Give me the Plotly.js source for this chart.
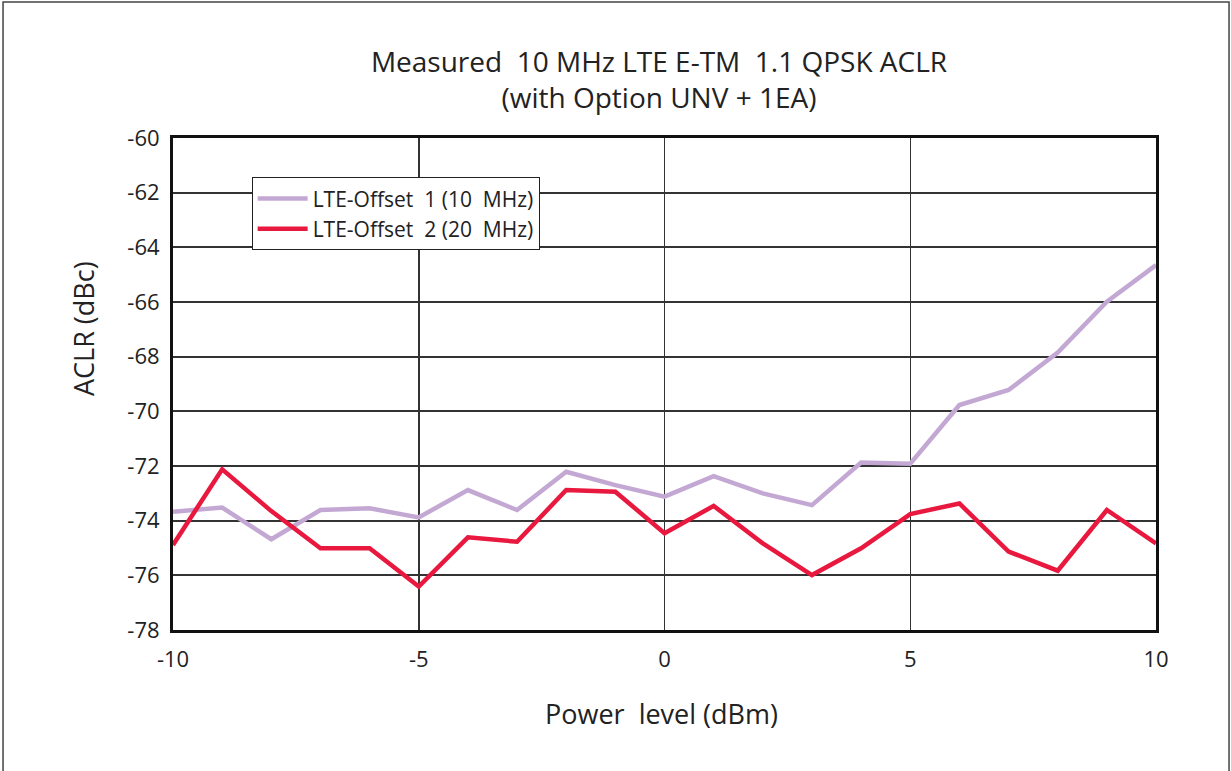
<!DOCTYPE html>
<html>
<head>
<meta charset="utf-8">
<script src="https://cdn.plot.ly/plotly-3.0.1.min.js"></script>
<style>html,body{margin:0;padding:0;background:#fff;}#chart{width:1231px;height:771px;}</style>
</head>
<body>
<div id="chart"></div>
<script>
const powerLevel = [-10,-9,-8,-7,-6,-5,-4,-3,-2,-1,0,1,2,3,4,5,6,7,8,9,10];
const offset1 = [-73.67,-73.52,-74.68,-73.61,-73.55,-73.88,-72.88,-73.61,-72.21,-72.70,-73.12,-72.37,-73.00,-73.43,-71.87,-71.92,-69.77,-69.22,-67.85,-65.99,-64.65];
const offset2 = [-74.89,-72.12,-73.65,-75.01,-75.01,-76.41,-74.61,-74.77,-72.88,-72.94,-74.46,-73.46,-74.83,-75.99,-75.01,-73.76,-73.37,-75.13,-75.83,-73.61,-74.83];
const seriesNames = ['LTE-Offset\u00a0 1 (10\u00a0 MHz)', 'LTE-Offset\u00a0 2 (20\u00a0 MHz)'];
const xTicks = [-10,-5,0,5,10];
const yTicks = [-78,-76,-74,-72,-70,-68,-66,-64,-62,-60];
const titleText = 'Measured\u00a0 10 MHz LTE E-TM\u00a0 1.1 QPSK ACLR<br>(with Option UNV + 1EA)';
const xTitle = 'Power\u00a0 level (dBm)';
const yTitle = 'ACLR (dBc)';

const FONT = 'Open Sans, Noto Sans, sans-serif';
const TXT = '#222';
const traces = [
  {x: powerLevel, y: offset1, name: seriesNames[0], mode: 'lines', line: {color: '#c4a8d4', width: 4.5}},
  {x: powerLevel, y: offset2, name: seriesNames[1], mode: 'lines', line: {color: '#e8183e', width: 4.5}}
];
const layout = {
  width: 1231, height: 771,
  margin: {l: 173, r: 75, t: 138, b: 141},
  paper_bgcolor: '#fff', plot_bgcolor: '#fff',
  font: {family: FONT, color: TXT},
  title: {text: titleText, font: {size: 28, color: TXT}, x: 659/1231, xref: 'container', xanchor: 'center', yref: 'container', y: 1 - 72/771, yanchor: 'middle'},
  xaxis: {
    range: [-10, 10], tickvals: xTicks, ticktext: xTicks.map(String),
    showgrid: true, gridcolor: '#333', gridwidth: 1.5, zeroline: false,
    showline: true, mirror: true, linecolor: '#111', linewidth: 3,
    ticks: '', ticklabelstandoff: 8, tickfont: {size: 22, color: TXT}
  },
  yaxis: {
    range: [-78, -60], tickvals: yTicks, ticktext: yTicks.map(String),
    showgrid: true, gridcolor: '#333', gridwidth: 2, zeroline: false,
    showline: true, mirror: true, linecolor: '#111', linewidth: 3,
    ticks: '', ticklabelstandoff: 6, tickfont: {size: 22, color: TXT}
  },
  annotations: [
    {text: xTitle, xref: 'paper', yref: 'paper', x: (661.5-173)/983, y: (630-713)/492, xanchor: 'center', yanchor: 'middle', showarrow: false, font: {size: 27, color: TXT}},
    {text: yTitle, xref: 'paper', yref: 'paper', x: (83-173)/983, y: (630-329)/492, xanchor: 'center', yanchor: 'middle', textangle: -90, showarrow: false, font: {size: 27, color: TXT}}
  ],
  showlegend: true,
  legend: {x: 0.08, y: 0.92, xanchor: 'left', yanchor: 'top', bgcolor: '#fff', bordercolor: '#222', borderwidth: 1, font: {size: 21, color: TXT}, tracegroupgap: 0, itemwidth: 50},
  shapes: [{type: 'rect', xref: 'paper', yref: 'paper', x0: -0.1729, x1: 1.0743, y0: -0.3, y1: 1.2764, line: {color: '#444', width: 1.5}, fillcolor: 'rgba(0,0,0,0)'}]
};
Plotly.newPlot('chart', traces, layout, {displayModeBar: false, staticPlot: true});
</script>
</body>
</html>
